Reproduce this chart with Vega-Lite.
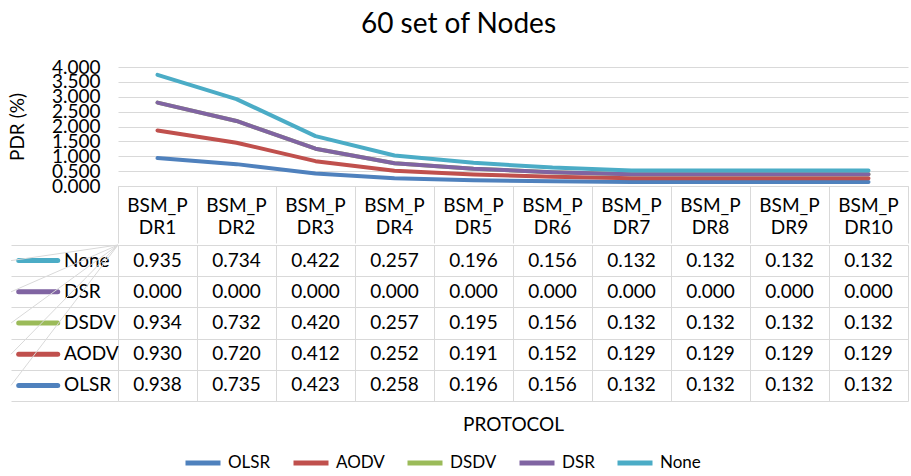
{
  "$schema": "https://vega.github.io/schema/vega-lite/v6.json",
  "background": "white",
  "padding": {"left": 8, "top": 11, "right": 3, "bottom": 4},
  "config": {
    "font": "Lato",
    "view": {"stroke": null},
    "axis": {"labelFont": "Lato", "titleFont": "Lato", "labelColor": "#000000", "titleColor": "#000000", "titleFontWeight": "normal"},
    "legend": {"labelFont": "Lato", "labelColor": "#000000"}
  },
  "title": {"text": "60 set of Nodes", "fontSize": 28, "fontWeight": "normal", "color": "#000000", "anchor": "middle", "offset": 19},
  "datasets": {
    "pdr": [
      {"s": "OLSR", "c": "BSM_PDR1", "v": 0.938}, {"s": "OLSR", "c": "BSM_PDR2", "v": 0.735}, {"s": "OLSR", "c": "BSM_PDR3", "v": 0.423}, {"s": "OLSR", "c": "BSM_PDR4", "v": 0.258}, {"s": "OLSR", "c": "BSM_PDR5", "v": 0.196}, {"s": "OLSR", "c": "BSM_PDR6", "v": 0.156}, {"s": "OLSR", "c": "BSM_PDR7", "v": 0.132}, {"s": "OLSR", "c": "BSM_PDR8", "v": 0.132}, {"s": "OLSR", "c": "BSM_PDR9", "v": 0.132}, {"s": "OLSR", "c": "BSM_PDR10", "v": 0.132},
      {"s": "AODV", "c": "BSM_PDR1", "v": 0.930}, {"s": "AODV", "c": "BSM_PDR2", "v": 0.720}, {"s": "AODV", "c": "BSM_PDR3", "v": 0.412}, {"s": "AODV", "c": "BSM_PDR4", "v": 0.252}, {"s": "AODV", "c": "BSM_PDR5", "v": 0.191}, {"s": "AODV", "c": "BSM_PDR6", "v": 0.152}, {"s": "AODV", "c": "BSM_PDR7", "v": 0.129}, {"s": "AODV", "c": "BSM_PDR8", "v": 0.129}, {"s": "AODV", "c": "BSM_PDR9", "v": 0.129}, {"s": "AODV", "c": "BSM_PDR10", "v": 0.129},
      {"s": "DSDV", "c": "BSM_PDR1", "v": 0.934}, {"s": "DSDV", "c": "BSM_PDR2", "v": 0.732}, {"s": "DSDV", "c": "BSM_PDR3", "v": 0.420}, {"s": "DSDV", "c": "BSM_PDR4", "v": 0.257}, {"s": "DSDV", "c": "BSM_PDR5", "v": 0.195}, {"s": "DSDV", "c": "BSM_PDR6", "v": 0.156}, {"s": "DSDV", "c": "BSM_PDR7", "v": 0.132}, {"s": "DSDV", "c": "BSM_PDR8", "v": 0.132}, {"s": "DSDV", "c": "BSM_PDR9", "v": 0.132}, {"s": "DSDV", "c": "BSM_PDR10", "v": 0.132},
      {"s": "DSR", "c": "BSM_PDR1", "v": 0.0}, {"s": "DSR", "c": "BSM_PDR2", "v": 0.0}, {"s": "DSR", "c": "BSM_PDR3", "v": 0.0}, {"s": "DSR", "c": "BSM_PDR4", "v": 0.0}, {"s": "DSR", "c": "BSM_PDR5", "v": 0.0}, {"s": "DSR", "c": "BSM_PDR6", "v": 0.0}, {"s": "DSR", "c": "BSM_PDR7", "v": 0.0}, {"s": "DSR", "c": "BSM_PDR8", "v": 0.0}, {"s": "DSR", "c": "BSM_PDR9", "v": 0.0}, {"s": "DSR", "c": "BSM_PDR10", "v": 0.0},
      {"s": "None", "c": "BSM_PDR1", "v": 0.935}, {"s": "None", "c": "BSM_PDR2", "v": 0.734}, {"s": "None", "c": "BSM_PDR3", "v": 0.422}, {"s": "None", "c": "BSM_PDR4", "v": 0.257}, {"s": "None", "c": "BSM_PDR5", "v": 0.196}, {"s": "None", "c": "BSM_PDR6", "v": 0.156}, {"s": "None", "c": "BSM_PDR7", "v": 0.132}, {"s": "None", "c": "BSM_PDR8", "v": 0.132}, {"s": "None", "c": "BSM_PDR9", "v": 0.132}, {"s": "None", "c": "BSM_PDR10", "v": 0.132}
    ],
    "cats": [
      {"c": "BSM_PDR1", "h1": "BSM_P", "h2": "DR1"}, {"c": "BSM_PDR2", "h1": "BSM_P", "h2": "DR2"}, {"c": "BSM_PDR3", "h1": "BSM_P", "h2": "DR3"}, {"c": "BSM_PDR4", "h1": "BSM_P", "h2": "DR4"}, {"c": "BSM_PDR5", "h1": "BSM_P", "h2": "DR5"},
      {"c": "BSM_PDR6", "h1": "BSM_P", "h2": "DR6"}, {"c": "BSM_PDR7", "h1": "BSM_P", "h2": "DR7"}, {"c": "BSM_PDR8", "h1": "BSM_P", "h2": "DR8"}, {"c": "BSM_PDR9", "h1": "BSM_P", "h2": "DR9"}, {"c": "BSM_PDR10", "h1": "BSM_P", "h2": "DR10"}
    ],
    "series": [{"s": "None"}, {"s": "DSR"}, {"s": "DSDV"}, {"s": "AODV"}, {"s": "OLSR"}]
  },
  "spacing": 0,
  "vconcat": [
    {
      "width": 790,
      "height": 119,
      "encoding": {
        "x": {
          "field": "c", "type": "nominal", "bandPosition": 0.5,
          "scale": {"type": "band", "domain": ["BSM_PDR1", "BSM_PDR2", "BSM_PDR3", "BSM_PDR4", "BSM_PDR5", "BSM_PDR6", "BSM_PDR7", "BSM_PDR8", "BSM_PDR9", "BSM_PDR10"], "paddingInner": 0, "paddingOuter": 0},
          "axis": {"title": null, "labels": false, "tickBand": "extent", "tickSize": 57, "tickColor": "#d9d9d9", "domainColor": "#d9d9d9", "grid": false}
        }
      },
      "layer": [
        {
          "data": {"name": "pdr"},
          "transform": [{"stack": "v", "groupby": ["c"], "as": ["v0", "v1"]}],
          "mark": {"type": "line", "strokeWidth": 4, "strokeCap": "round", "strokeJoin": "round"},
          "encoding": {
            "y": {
              "field": "v1", "type": "quantitative",
              "scale": {"domain": [0, 4]},
              "axis": {"title": "PDR (%)", "values": [0, 0.5, 1, 1.5, 2, 2.5, 3, 3.5, 4], "format": ".3f", "labelFontSize": 19, "titleFontSize": 19, "ticks": false, "domain": false, "grid": true, "gridColor": "#d9d9d9", "labelPadding": 18, "titlePadding": 24, "labelOverlap": false, "labelBound": false}
            },
            "color": {
              "field": "s", "type": "nominal",
              "scale": {"domain": ["OLSR", "AODV", "DSDV", "DSR", "None"], "range": ["#4f81bd", "#c0504d", "#9bbb59", "#8064a2", "#4bacc6"]},
              "legend": {"title": null, "orient": "none", "legendX": 65, "legendY": 376, "direction": "horizontal", "labelFontSize": 17, "symbolType": "stroke", "symbolSize": 1225, "symbolStrokeWidth": 5, "labelOffset": 5, "columnPadding": 12}
            }
          }
        },
        {
          "data": {"name": "cats"},
          "mark": {"type": "text", "fontSize": 19, "color": "#000000", "font": "Lato"},
          "encoding": {
            "y": {
              "datum": -0.67, "type": "quantitative",
              "scale": {"domain": [0, 4]},
              "axis": {"title": "PDR (%)", "values": [0, 0.5, 1, 1.5, 2, 2.5, 3, 3.5, 4], "format": ".3f", "labelFontSize": 19, "titleFontSize": 19, "ticks": false, "domain": false, "grid": true, "gridColor": "#d9d9d9", "labelPadding": 18, "titlePadding": 24, "labelOverlap": false, "labelBound": false}
            },
            "text": {"field": "h1"}
          }
        },
        {
          "data": {"name": "cats"},
          "mark": {"type": "text", "fontSize": 19, "color": "#000000", "font": "Lato"},
          "encoding": {
            "y": {
              "datum": -1.41, "type": "quantitative",
              "scale": {"domain": [0, 4]},
              "axis": {"title": "PDR (%)", "values": [0, 0.5, 1, 1.5, 2, 2.5, 3, 3.5, 4], "format": ".3f", "labelFontSize": 19, "titleFontSize": 19, "ticks": false, "domain": false, "grid": true, "gridColor": "#d9d9d9", "labelPadding": 18, "titlePadding": 24, "labelOverlap": false, "labelBound": false}
            },
            "text": {"field": "h2"}
          }
        }
      ]
    },
    {
      "width": 790,
      "height": 156,
      "data": {"name": "pdr"},
      "encoding": {
        "x": {
          "field": "c", "type": "nominal",
          "scale": {"type": "band", "domain": ["BSM_PDR1", "BSM_PDR2", "BSM_PDR3", "BSM_PDR4", "BSM_PDR5", "BSM_PDR6", "BSM_PDR7", "BSM_PDR8", "BSM_PDR9", "BSM_PDR10"], "paddingInner": 0, "paddingOuter": 0},
          "axis": {"orient": "bottom", "title": "PROTOCOL", "titleFontSize": 19, "titlePadding": 14, "labels": false, "ticks": false, "domain": false, "grid": true, "tickBand": "extent", "gridColor": "#d9d9d9"}
        },
        "y": {
          "field": "s", "type": "nominal",
          "scale": {"type": "band", "domain": ["None", "DSR", "DSDV", "AODV", "OLSR"], "paddingInner": 0, "paddingOuter": 0},
          "axis": {"title": null, "labels": false, "ticks": true, "tickBand": "extent", "tickSize": 107, "domain": true, "domainColor": "#d9d9d9", "tickColor": "#d9d9d9", "grid": true, "gridColor": "#d9d9d9"}
        }
      },
      "layer": [
        {
          "mark": {"type": "text", "fontSize": 19, "color": "#000000", "font": "Lato"},
          "encoding": {
            "text": {"field": "v", "type": "quantitative", "format": ".3f"}
          }
        },
        {
          "data": {"name": "series"},
          "mark": {"type": "point", "shape": "stroke", "size": 1521, "strokeWidth": 5, "filled": false, "opacity": 1, "strokeCap": "round"},
          "encoding": {
            "x": {"datum": "BSM_PDR1", "bandPosition": -1.01},
            "color": {"field": "s", "type": "nominal"}
          }
        },
        {
          "data": {"name": "series"},
          "mark": {"type": "text", "align": "left", "fontSize": 19, "color": "#000000", "font": "Lato"},
          "encoding": {
            "x": {"datum": "BSM_PDR1", "bandPosition": -0.684},
            "text": {"field": "s"}
          }
        },
        {
          "data": {"name": "series"},
          "mark": {"type": "rule", "color": "#d9d9d9"},
          "encoding": {
            "x": {"datum": "BSM_PDR1", "bandPosition": -1.354}
          }
        }
      ]
    }
  ]
}
